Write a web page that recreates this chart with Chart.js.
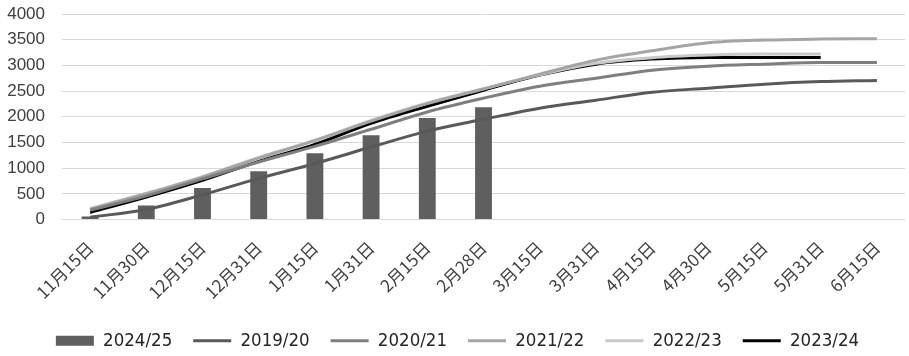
<!DOCTYPE html>
<html><head><meta charset="utf-8">
<script src="https://cdn.jsdelivr.net/npm/chart.js@4/dist/chart.umd.min.js"></script>
<style>html,body{margin:0;padding:0;background:#fff}#wrap{width:909px;height:356px}</style>
</head><body><div id="wrap"><canvas id="c" width="909" height="356"></canvas></div>
<script>
const categories = ["11月15日","11月30日","12月15日","12月31日","1月15日","1月31日","2月15日","2月28日","3月15日","3月31日","4月15日","4月30日","5月15日","5月31日","6月15日"];
const s2024_25 = [60,273,611,937,1288,1639,1977,2185,null,null,null,null,null,null,null];
const s2019_20 = [45,195,480,800,1090,1410,1720,1950,2166,2322,2478,2556,2634,2685,2708];
const s2020_21 = [180,460,790,1120,1424,1756,2093,2361,2595,2750,2907,2985,3024,3057,3057];
const s2021_22 = [200,500,825,1195,1535,1915,2256,2540,2830,3100,3284,3440,3493,3512,3518];
const s2022_23 = [215,510,835,1210,1545,1930,2270,2545,2815,3040,3150,3200,3220,3220,null];
const s2023_24 = [137,435,761,1132,1463,1873,2205,2517,2810,3024,3122,3154,3154,3154,null];
const yTicks = [0,500,1000,1500,2000,2500,3000,3500,4000];

const lineDs = (label, data, color, w) => ({type:'line', label, data, borderColor:color, backgroundColor:color, borderWidth:w, pointRadius:0, tension:0.4, cubicInterpolationMode:'monotone', fill:false, pointStyle:'line', order:1});

const legendShift = {
  id:'legendShift',
  afterLayout(chart){
    const l = chart.legend; if(!l) return;
    l.left += 5; l.right += 5; l.top += 6; l.bottom += 6;
  }
};

new Chart(document.getElementById('c'), {
  data: {
    labels: categories,
    datasets: [
      {type:'bar', label:'2024/25', data:s2024_25, backgroundColor:'#5f5f5f', borderWidth:0, barPercentage:0.3, categoryPercentage:1, pointStyle:'rect', order:2},
      lineDs('2019/20', s2019_20, '#595959', 3),
      lineDs('2020/21', s2020_21, '#7f7f7f', 3),
      lineDs('2021/22', s2021_22, '#a5a5a5', 3),
      lineDs('2022/23', s2022_23, '#c9c9c9', 3),
      lineDs('2023/24', s2023_24, '#000000', 3)
    ]
  },
  plugins:[legendShift],
  options: {
    responsive:false, animation:false,
    layout:{padding:{left:0,right:4,top:14,bottom:2}},
    plugins:{
      tooltip:{enabled:false},
      legend:{position:'bottom', labels:{usePointStyle:true, pointStyleWidth:38, boxHeight:10, color:'#262626', padding:21,
        sort:(a,b)=>a.datasetIndex-b.datasetIndex,
        font:{family:'"DejaVu Sans Condensed","Liberation Sans",sans-serif', size:18.5}}}
    },
    scales:{
      x:{grid:{display:false}, border:{display:false},
         afterFit:(s)=>{s.height=85;},
         ticks:{maxRotation:45, minRotation:45, autoSkip:false, padding:10, color:'#404040', font:{family:'"Noto Sans CJK SC","Liberation Sans",sans-serif', size:17}}},
      y:{min:0, max:4000, afterBuildTicks:(a)=>{a.ticks=yTicks.map(v=>({value:v}));},
         afterFit:(s)=>{s.width=62; s.paddingTop=0; s.paddingBottom=0;},
         grid:{color:'#d9d9d9', lineWidth:1, drawTicks:false}, border:{display:false},
         ticks:{padding:17, color:'#404040', callback:(v)=>String(v), font:{family:'"Liberation Sans",Arial,sans-serif', size:17}}}
    }
  }
});
</script></body></html>
